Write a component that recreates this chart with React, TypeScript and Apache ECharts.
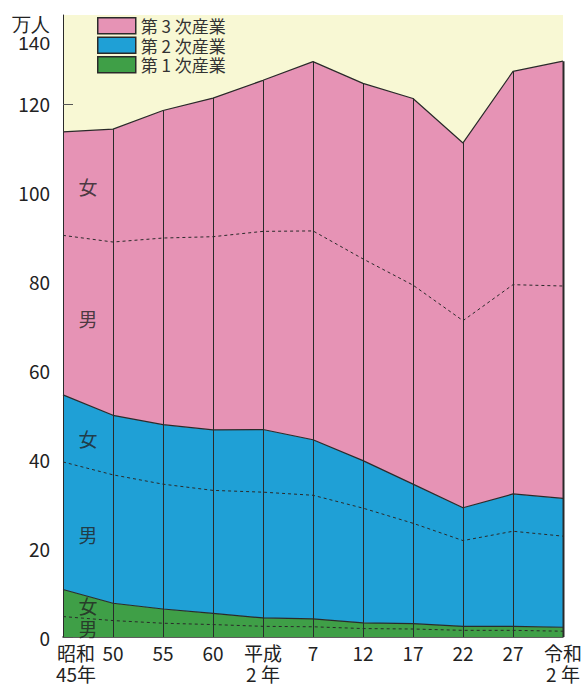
import React, { useEffect, useRef } from "react";
import * as echarts from "echarts";

// ---- data (万人) ----
const categories = ["昭和\n45年", "50", "55", "60", "平成\n2 年", "7", "12", "17", "22", "27", "令和\n2 年"];
const primaryTotal = [10.7, 7.6, 6.3, 5.3, 4.3, 4.1, 3.2, 3.0, 2.4, 2.4, 2.2];
const primaryMale = [4.6, 3.7, 3.1, 2.8, 2.4, 2.3, 1.9, 1.8, 1.5, 1.5, 1.3];
const secondaryTotal = [43.8, 42.3, 41.5, 41.3, 42.4, 40.3, 36.5, 31.4, 26.7, 29.8, 29.0];
const secondaryMale = [28.7, 28.9, 28.1, 27.7, 28.3, 27.8, 25.8, 22.6, 19.3, 21.4, 20.5];
const tertiaryTotal = [59.2, 64.4, 70.7, 74.7, 78.6, 85.1, 84.9, 86.8, 82.1, 95.1, 98.4];
const tertiaryMale = [35.9, 39.0, 42.0, 43.5, 44.6, 47.0, 45.4, 44.8, 42.1, 47.1, 47.8];
const seriesNames = ["第 1 次産業", "第 2 次産業", "第 3 次産業"];
const sexLabels = ["女", "男", "女", "男", "女", "男"];
const sexLabelLevels = [101.5, 71.6, 44.7, 23.0, 7.2, 2.0];

const GREEN = "#3f9f47";
const BLUE = "#1fa0d6";
const PINK = "#e693b5";
const YELLOW = "#f8f8d4";
const INK = "#2a2a2a";
const FONT = "'Noto Sans CJK JP', 'Liberation Sans', sans-serif";

export default function App() {
  const ref = useRef<HTMLDivElement>(null);
  useEffect(() => {
    if (!ref.current) return;
    const chart = echarts.init(ref.current, null, { renderer: "svg" });
    const n = categories.length;
    const lvl1 = primaryTotal;
    const lvl2 = primaryTotal.map((v, i) => v + secondaryTotal[i]);
    const lvl3 = lvl2.map((v, i) => v + tertiaryTotal[i]);
    const dash1 = primaryMale;
    const dash2 = lvl1.map((v, i) => v + secondaryMale[i]);
    const dash3 = lvl2.map((v, i) => v + tertiaryMale[i]);
    const colors = [GREEN, BLUE, PINK];
    const parts = [primaryTotal, secondaryTotal, tertiaryTotal];

    const legendBars = seriesNames.map((name, i) => ({
      type: "bar",
      name,
      data: [],
      itemStyle: { color: colors[i] },
    }));
    const areas = seriesNames.map((name, i) => ({
      type: "line",
      name,
      stack: "total",
      data: parts[i],
      symbol: "none",
      smooth: false,
      lineStyle: { color: INK, width: 1.2 },
      itemStyle: { color: colors[i] },
      areaStyle: { color: colors[i], opacity: 1 },
      z: 2,
    }));
    const dashes = [dash1, dash2, dash3].map((d) => ({
      type: "line",
      data: d,
      symbol: "none",
      lineStyle: { color: INK, width: 1, type: [3, 3] },
      z: 3,
    }));

    chart.setOption({
      animation: false,
      textStyle: { fontFamily: FONT },
      grid: {
        left: 63,
        right: 22,
        top: 15,
        bottom: 43,
        show: true,
        backgroundColor: YELLOW,
        borderWidth: 0,
      },
      legend: {
        data: [seriesNames[2], seriesNames[1], seriesNames[0]],
        orient: "vertical",
        left: 97,
        top: 17,
        padding: 0,
        itemWidth: 38,
        itemHeight: 16,
        itemGap: 2,
        icon: "rect",
        itemStyle: { borderColor: INK, borderWidth: 1.5 },
        textStyle: { fontSize: 17, color: "#333", fontFamily: FONT },
        selectedMode: false,
      },
      xAxis: {
        type: "category",
        data: categories,
        boundaryGap: false,
        axisLine: { show: true, lineStyle: { color: INK, width: 1.5 } },
        axisTick: { show: false },
        splitLine: { show: false },
        axisLabel: {
          interval: 0,
          margin: 5,
          fontSize: 19,
          lineHeight: 21,
          color: "#222",
          fontFamily: FONT,
          formatter: (v: string, i: number) => {
            if (i === 0) {
              return v
                .split("\n")
                .map((s) => `{first|${s}}`)
                .join("\n");
            }
            return v;
          },
          rich: {
            first: { padding: [0, 0, 0, 26], fontSize: 19, lineHeight: 21, color: "#222", fontFamily: FONT },
          },
        },
      },
      yAxis: {
        type: "value",
        min: 0,
        max: 140,
        interval: 20,
        axisLine: { show: true, lineStyle: { color: INK, width: 1 } },
        axisTick: { show: true, inside: true, length: 10, lineStyle: { color: "#555", width: 1 } },
        splitLine: { show: false },
        axisLabel: {
          margin: 13,
          fontSize: 19,
          color: "#222",
          fontFamily: FONT,
          showMaxLabel: false,
          formatter: (v: number) => (v === 140 ? "" : String(v)),
        },
      },
      graphic: [
        { type: "text", right: 535, top: 15, style: { text: "万人", fontSize: 19, fill: "#222", font: `19px ${FONT}` } },
        { type: "text", right: 535, top: 34, style: { text: "140", fontSize: 19, fill: "#222", font: `19px ${FONT}` } },
      ],
      series: [
        ...legendBars,
        ...areas,
        ...dashes,
        {
          type: "custom",
          data: lvl3.map((t, i) => [i, t]),
          z: 4,
          renderItem: (params: any, api: any) => {
            const i = api.value(0);
            const b = api.coord([i, 0]);
            const t = api.coord([i, api.value(1)]);
            const x = Math.round(b[0]) + 0.5;
            return {
              type: "line",
              shape: { x1: x, y1: b[1], x2: x, y2: t[1] },
              style: { stroke: INK, lineWidth: i === n - 1 ? 2 : 1 },
            };
          },
        },
        {
          type: "scatter",
          symbolSize: 0,
          z: 5,
          data: sexLabels.map((s, i) => ({ name: s, value: [0, sexLabelLevels[i]] })),
          label: {
            show: true,
            position: "inside",
            offset: [25, 0],
            formatter: (p: any) => p.name,
            fontSize: 19,
            color: "#222",
            fontFamily: FONT,
          },
        },
      ],
    });
    return () => chart.dispose();
  }, []);
  return (
    <div
      ref={ref}
      style={{ position: "fixed", left: 0, top: 0, width: 585, height: 684, background: "#fff" }}
    />
  );
}
